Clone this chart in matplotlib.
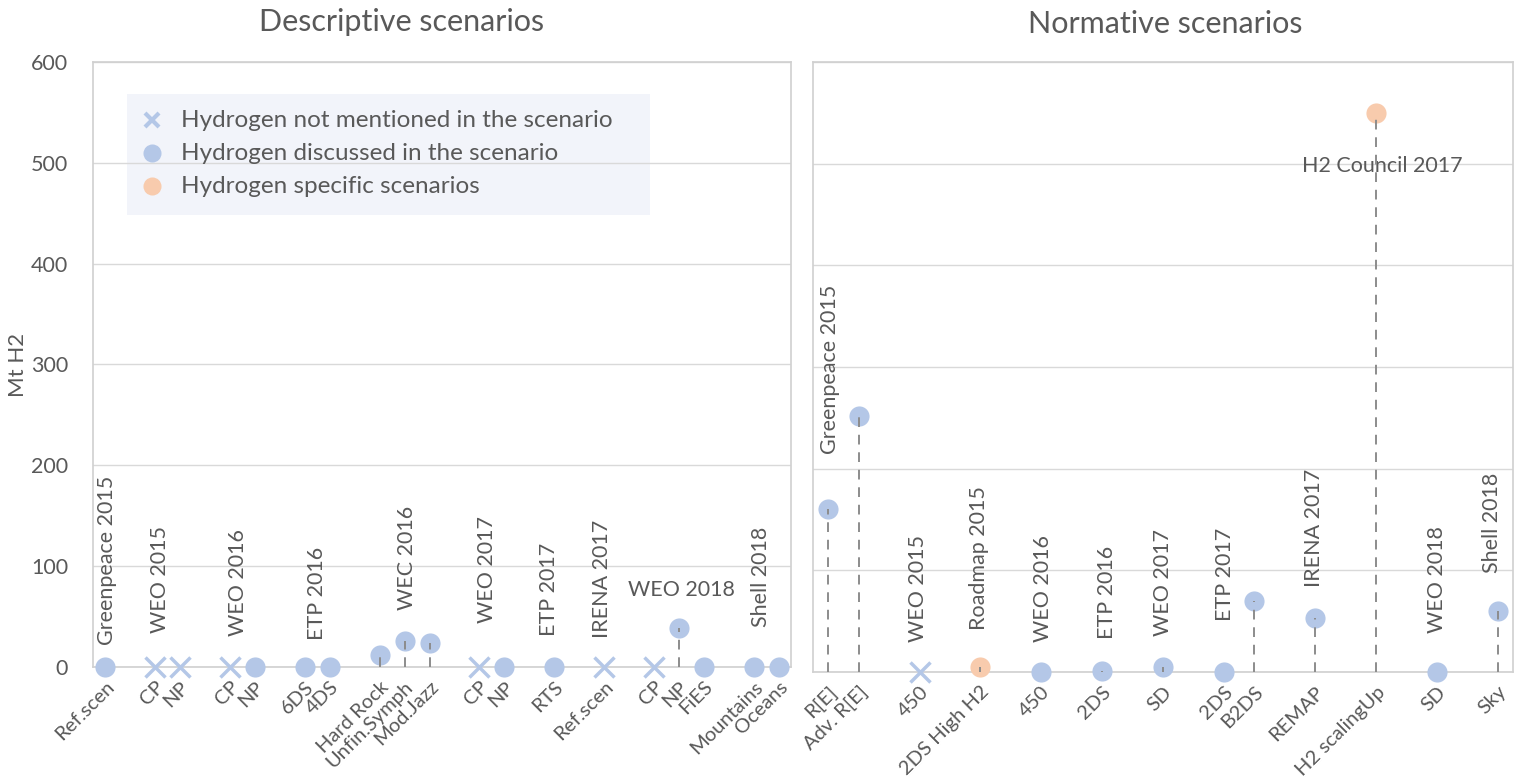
import matplotlib
matplotlib.use("Agg")
import matplotlib.pyplot as plt
from matplotlib.patches import Rectangle

plt.rcParams['font.family'] = ['Lato', 'DejaVu Sans']

# descriptive scenarios (left panel), '' = empty category slot
desc_ticks = ['Ref.scen', '', 'CP', 'NP', '', 'CP', 'NP', '', '6DS', '4DS', '',
              'Hard Rock', 'Unfin.Symph', 'Mod.Jazz', '', 'CP', 'NP', '', 'RTS', '',
              'Ref.scen', '', 'CP', 'NP', 'FiES', '', 'Mountains', 'Oceans']
desc_values = [0, None, 0, 0, None, 0, 0, None, 0, 0, None,
               12, 26, 24, None, 0, 0, None, 0, None,
               0, None, 0, 39, 0, None, 0, 0]
# x = not mentioned, d = discussed, h = hydrogen specific
desc_kind = ['d', '', 'x', 'x', '', 'x', 'd', '', 'd', 'd', '',
             'd', 'd', 'd', '', 'x', 'd', '', 'd', '',
             'x', '', 'x', 'd', 'd', '', 'd', 'd']
desc_groups = ['Greenpeace 2015', 'WEO 2015', 'WEO 2016', 'ETP 2016', 'WEC 2016',
               'WEO 2017', 'ETP 2017', 'IRENA 2017', 'WEO 2018', 'Shell 2018']

# normative scenarios (right panel)
norm_ticks = ['R[E]', 'Adv. R[E]', '', '450', '', '2DS High H2', '', '450', '', '2DS', '',
              'SD', '', '2DS', 'B2DS', '', 'REMAP', '', 'H2 scalingUp', '', 'SD', '', 'Sky']
norm_values = [160, 252, None, 0, None, 5, None, 0, None, 1, None,
               5, None, 0, 70, None, 53, None, 550, None, 0, None, 60]
norm_kind = ['d', 'd', '', 'x', '', 'h', '', 'd', '', 'd', '',
             'd', '', 'd', 'd', '', 'd', '', 'h', '', 'd', '', 'd']
norm_groups = ['Greenpeace 2015', 'WEO 2015', 'Roadmap 2015', 'WEO 2016', 'ETP 2016',
               'WEO 2017', 'ETP 2017', 'IRENA 2017', 'H2 Council 2017', 'WEO 2018', 'Shell 2018']

# label placement (x slot, y bottom, rotation)
desc_group_pos = [(0.05, 22, 90), (2.2, 34, 90), (5.3, 31, 90), (8.5, 27, 90), (12.1, 57, 90),
                  (15.3, 44, 90), (17.8, 31, 90), (19.9, 29, 90), (23.1, 66, 0), (26.3, 40, 90)]
norm_group_pos = [(0.07, 214, 90), (2.95, 30, 90), (4.95, 41, 90), (7.05, 30, 90), (9.15, 32, 90),
                  (11.0, 35, 90), (13.05, 50, 90), (15.95, 84, 90), (18.2, 488, 0),
                  (20.0, 38, 90), (21.8, 97, 90)]

BLUE = '#B4C7E7'
ORANGE = '#F8CBAD'
TEXT = '#595959'
GRID = '#D9D9D9'

fig = plt.figure(figsize=(15.17, 7.82), dpi=100)
ax1 = fig.add_axes([93 / 1517, 115 / 782, 698 / 1517, 605 / 782])
ax2 = fig.add_axes([813 / 1517, 110 / 782, 700 / 1517, 610 / 782])


def draw_panel(ax, ticks, values, kind, groups, group_pos):
    n = len(ticks)
    for i, (v, k) in enumerate(zip(values, kind)):
        if v is None:
            continue
        if k == 'x':
            ax.plot(i, v, marker='x', ms=15, mew=2.5, color=BLUE, zorder=3, clip_on=False)
        else:
            col = ORANGE if k == 'h' else BLUE
            ax.plot(i, v, marker='o', ms=14.5, color=col, mec='none', zorder=3, clip_on=False)
            if v > 0:
                ax.vlines(i, 0, v, colors='#8C8C8C', linestyles=(0, (5, 4)), lw=1.4, zorder=4)
    for name, (gx, gy, rot) in zip(groups, group_pos):
        ax.text(gx, gy, name, rotation=rot, ha='center', va='bottom', fontsize=15.5, color=TEXT)
    ax.set_xlim(-0.5, n - 0.5)
    ax.set_ylim(0, 600)
    ax.set_xticks(range(n))
    ax.set_xticklabels(ticks, rotation=45, ha='right', rotation_mode='anchor',
                       fontsize=14.5, color=TEXT)
    ax.set_yticks(range(0, 700, 100))
    ax.tick_params(length=0)
    ax.tick_params(axis='x', pad=8)
    ax.grid(axis='y', color=GRID, lw=1)
    ax.set_axisbelow(True)
    for s in ax.spines.values():
        s.set_color('#D0D0D0')
        s.set_linewidth(1.2)


draw_panel(ax1, desc_ticks, desc_values, desc_kind, desc_groups, desc_group_pos)
draw_panel(ax2, norm_ticks, norm_values, norm_kind, norm_groups, norm_group_pos)

ax1.tick_params(axis='y', labelsize=15.5, labelcolor=TEXT, pad=18)
ax2.set_yticklabels([])
fig.text(18 / 1517, 1 - 365 / 782, 'Mt H2', rotation=90, ha='center', va='center',
         fontsize=16, color=TEXT)

# legend box
ax1.add_patch(Rectangle((0.049, 0.747), 0.749, 0.2, transform=ax1.transAxes,
                        facecolor='#F2F4FA', edgecolor='none', zorder=0.2))
leg_items = [('x', BLUE, 'Hydrogen not mentioned in the scenario'),
             ('o', BLUE, 'Hydrogen discussed in the scenario'),
             ('o', ORANGE, 'Hydrogen specific scenarios')]
for j, (m, c, lab) in enumerate(leg_items):
    ly = 0.904 - j * 0.0545
    if m == 'x':
        ax1.plot(0.0845, ly, marker='x', ms=10, mew=3, color=c, transform=ax1.transAxes)
    else:
        ax1.plot(0.0845, ly, marker='o', ms=13, color=c, mec='none', transform=ax1.transAxes)
    ax1.text(0.126, ly, lab, transform=ax1.transAxes, va='center', ha='left',
             fontsize=17.5, color=TEXT)

fig.text(402 / 1517, 1 - 22 / 782, 'Descriptive scenarios', ha='center', va='center',
         fontsize=22, color=TEXT)
fig.text(1165 / 1517, 1 - 24 / 782, 'Normative scenarios', ha='center', va='center',
         fontsize=22, color=TEXT)

fig.savefig('out.png', dpi=100)
